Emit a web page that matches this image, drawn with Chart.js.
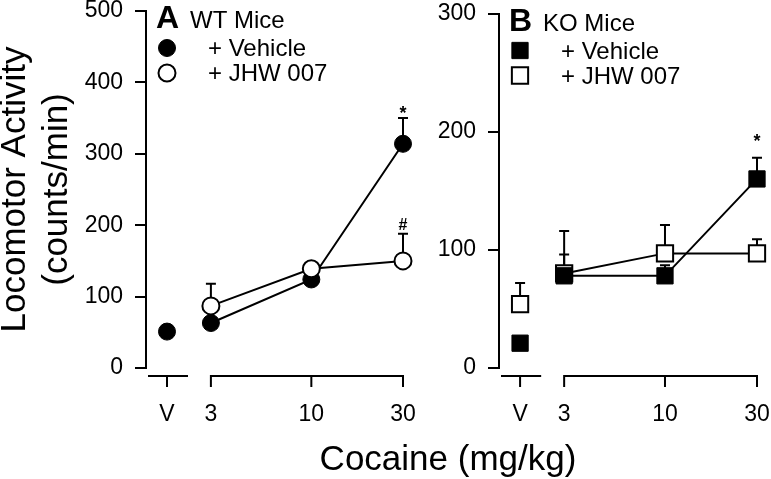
<!DOCTYPE html>
<html>
<head>
<meta charset="utf-8">
<script src="https://cdn.jsdelivr.net/npm/chart.js@4.4.1/dist/chart.umd.min.js"></script>
<style>
  html, body { margin: 0; padding: 0; background: #fff; }
  #wrap { position: relative; width: 771px; height: 479px; overflow: hidden; font-family: "Liberation Sans", Arial, Helvetica, sans-serif; }
  canvas { position: absolute; top: 0; }
  #chartA { left: 0; }
  #chartB { left: 425px; }
  #xTitle { position: absolute; left: 448px; top: 440px; transform: translateX(-50%); font-size: 35px; line-height: 35px; color: #000; white-space: nowrap; }
</style>
</head>
<body>
<div id="wrap">
  <canvas id="chartA" width="430" height="479"></canvas>
  <canvas id="chartB" width="346" height="479"></canvas>
  <div id="xTitle">Cocaine (mg/kg)</div>
</div>
<script>
// cocaine doses (mg/kg) on a log axis, plus the saline "V" point
const doses = [3, 10, 30];
const doseTicks = [3, 10, 30];
const vehicleLabel = ['V'];

// panel A - WT mice
const wtVehicle = [63, 124, 314];
const wtVehicleSem = [5, 5, 36];
const wtJhw = [87, 139, 150];
const wtJhwSem = [31, 5, 38];
const wtVehicleV = [51];
const wtVehicleVSem = [4];

// panel B - KO mice
const koVehicle = [78, 78, 160];
const koVehicleSem = [18, 9, 18];
const koJhw = [80, 97, 97];
const koJhwSem = [36, 24, 12];
const koVehicleV = [21];
const koVehicleVSem = [3];
const koJhwV = [54];
const koJhwVSem = [18];

// significance symbols (dose, height in counts/min)
const wtMarks = [{dose: 30, value: 355, text: '*'}, {dose: 30, value: 199, text: '#'}];
const koMarks = [{dose: 30, value: 191, text: '*'}];

const family = '"Liberation Sans", Arial, Helvetica, sans-serif';
Chart.defaults.font.family = family;
Chart.defaults.color = '#000';

const filled = {pointBackgroundColor: '#000', pointBorderColor: '#000', pointBorderWidth: 1};
const open = {pointBackgroundColor: '#fff', pointBorderColor: '#000', pointBorderWidth: 2};

function xy(xs, ys) {
  return xs.map((x, i) => ({x: x, y: ys[i]}));
}

function drawMarker(ctx, ds, cx, cy) {
  const r = ds.pointRadius;
  ctx.beginPath();
  if (ds.pointStyle === 'rect') {
    const h = r * Math.SQRT1_2;
    ctx.rect(cx - h, cy - h, 2 * h, 2 * h);
  } else {
    ctx.arc(cx, cy, r, 0, Math.PI * 2);
  }
  ctx.fillStyle = ds.pointBackgroundColor;
  ctx.fill();
  ctx.lineWidth = ds.pointBorderWidth;
  ctx.strokeStyle = ds.pointBorderColor;
  ctx.stroke();
}

// upward SEM bars
const errorBars = {
  id: 'errorBars',
  beforeDatasetsDraw(chart) {
    const ctx = chart.ctx;
    ctx.save();
    ctx.strokeStyle = '#000';
    ctx.lineWidth = 2;
    chart.data.datasets.forEach((ds, i) => {
      if (!ds.errors) return;
      const meta = chart.getDatasetMeta(i);
      const yScale = chart.scales[meta.yAxisID];
      meta.data.forEach((pt, j) => {
        const top = yScale.getPixelForValue(ds.data[j].y + ds.errors[j]);
        ctx.beginPath();
        ctx.moveTo(pt.x, pt.y);
        ctx.lineTo(pt.x, top);
        ctx.moveTo(pt.x - 5, top);
        ctx.lineTo(pt.x + 5, top);
        ctx.stroke();
      });
    });
    ctx.restore();
  }
};

// broken x axis: short V segment, then the dose segment
const splitAxis = {
  id: 'splitAxis',
  beforeDatasetsDraw(chart) {
    const ctx = chart.ctx;
    const xv = chart.scales.xv;
    const x = chart.scales.x;
    const yLine = chart.chartArea.bottom + 8;
    const tick = 11;
    ctx.save();
    ctx.strokeStyle = '#000';
    ctx.lineWidth = 2;
    ctx.beginPath();
    ctx.moveTo(xv.left + 2, yLine);
    ctx.lineTo(xv.right, yLine);
    const pv = xv.getPixelForValue(0);
    ctx.moveTo(pv, yLine);
    ctx.lineTo(pv, yLine + tick);
    ctx.moveTo(x.getPixelForValue(doseTicks[0]) - 1, yLine);
    ctx.lineTo(x.getPixelForValue(doseTicks[doseTicks.length - 1]) + 1, yLine);
    doseTicks.forEach(d => {
      const p = x.getPixelForValue(d);
      ctx.moveTo(p, yLine);
      ctx.lineTo(p, yLine + tick);
    });
    ctx.stroke();
    ctx.restore();
  }
};

const panelLegend = {
  id: 'panelLegend',
  afterDraw(chart, args, opts) {
    const ctx = chart.ctx;
    const x0 = chart.chartArea.left;
    const y0 = chart.chartArea.top;
    ctx.save();
    ctx.fillStyle = '#000';
    ctx.textBaseline = 'alphabetic';
    ctx.textAlign = 'left';
    ctx.font = 'bold 32px ' + family;
    ctx.fillText(opts.letter, x0 + 10, y0 + 17);
    ctx.font = '24px ' + family;
    ctx.fillText(opts.title, x0 + 44, y0 + 17);
    opts.items.forEach((idx, k) => {
      const ds = chart.data.datasets[idx];
      const cy = y0 + 37 + k * 25;
      drawMarker(ctx, ds, x0 + 21, cy);
      ctx.fillStyle = '#000';
      ctx.fillText(ds.label, x0 + 62, cy + 8);
    });
    ctx.restore();
  }
};

const sigMarks = {
  id: 'sigMarks',
  afterDatasetsDraw(chart, args, opts) {
    const ctx = chart.ctx;
    const x = chart.scales.x;
    const y = chart.scales.y;
    ctx.save();
    ctx.fillStyle = '#000';
    ctx.textAlign = 'center';
    ctx.textBaseline = 'middle';
    opts.marks.forEach(m => {
      ctx.font = (m.text === '*' ? 'bold 18px ' : 'bold 16px ') + family;
      ctx.fillText(m.text, x.getPixelForValue(m.dose), y.getPixelForValue(m.value));
    });
    ctx.restore();
  }
};

function scalesFor(yMax, yTitle, yWidth) {
  const xFit = s => { s.height = 111; s.paddingLeft = 0; s.paddingRight = 0; };
  return {
    xv: {
      type: 'category', labels: vehicleLabel, position: 'bottom',
      stack: 'dose', stackWeight: 42, offset: true,
      grid: {display: false, drawTicks: false},
      border: {display: false},
      ticks: {padding: 33, font: {size: 23}, maxRotation: 0},
      afterFit: xFit
    },
    x: {
      type: 'logarithmic', min: 2.28, max: 30, bounds: 'data', position: 'bottom',
      stack: 'dose', stackWeight: 215,
      grid: {display: false, drawTicks: false},
      border: {display: false},
      ticks: {padding: 33, font: {size: 23}, autoSkip: false, maxRotation: 0, callback: v => String(v)},
      afterBuildTicks: s => { s.ticks = doseTicks.map(v => ({value: v})); },
      afterFit: xFit
    },
    y: {
      type: 'linear', min: 0, max: yMax, position: 'left',
      ticks: {stepSize: 100, padding: 12, font: {size: 23}},
      grid: {display: true, drawOnChartArea: false, drawTicks: true, tickLength: 11, color: '#000', lineWidth: 2},
      border: {display: true, color: '#000', width: 2},
      title: {display: !!yTitle, text: yTitle || '', font: {size: 35, lineHeight: 1.18}, padding: {top: -5, bottom: 0}},
      afterFit: s => { s.width = yWidth; s.paddingTop = 0; s.paddingBottom = 0; }
    }
  };
}

function baseOptions(rightPad, yMax, yTitle, yWidth, legendOpts, marks) {
  return {
    responsive: false,
    animation: false,
    devicePixelRatio: 1,
    layout: {padding: {left: 0, top: 11, right: rightPad, bottom: 0}},
    elements: {line: {tension: 0, borderWidth: 2, borderColor: '#000'}},
    plugins: {
      legend: {display: false},
      tooltip: {enabled: false},
      panelLegend: legendOpts,
      sigMarks: {marks: marks}
    },
    scales: scalesFor(yMax, yTitle, yWidth)
  };
}

// Panel A
new Chart(document.getElementById('chartA'), {
  type: 'line',
  data: {
    datasets: [
      Object.assign({label: '+ Vehicle', data: xy(doses, wtVehicle), errors: wtVehicleSem, xAxisID: 'x',
        pointStyle: 'circle', pointRadius: 8.5, borderColor: '#000', borderWidth: 2, order: 1, clip: false}, filled),
      Object.assign({label: '+ JHW 007', data: xy(doses, wtJhw), errors: wtJhwSem, xAxisID: 'x',
        pointStyle: 'circle', pointRadius: 8.5, borderColor: '#000', borderWidth: 2, order: 0, clip: false}, open),
      Object.assign({label: '+ Vehicle', data: xy(vehicleLabel, wtVehicleV), errors: wtVehicleVSem, xAxisID: 'xv',
        showLine: false, pointStyle: 'circle', pointRadius: 8.5, order: 1, clip: false}, filled)
    ]
  },
  options: baseOptions(27, 500, ['Locomotor Activity', '(counts/min)'], 146,
    {letter: 'A', title: 'WT Mice', items: [0, 1]}, wtMarks),
  plugins: [errorBars, splitAxis, panelLegend, sigMarks]
});

// Panel B
new Chart(document.getElementById('chartB'), {
  type: 'line',
  data: {
    datasets: [
      Object.assign({label: '+ Vehicle', data: xy(doses, koVehicle), errors: koVehicleSem, xAxisID: 'x',
        pointStyle: 'rect', pointRadius: 11.5, borderColor: '#000', borderWidth: 2, order: 0, clip: false}, filled),
      Object.assign({label: '+ JHW 007', data: xy(doses, koJhw), errors: koJhwSem, xAxisID: 'x',
        pointStyle: 'rect', pointRadius: 11.5, borderColor: '#000', borderWidth: 2, order: 1, clip: false}, open),
      Object.assign({label: '+ Vehicle', data: xy(vehicleLabel, koVehicleV), errors: koVehicleVSem, xAxisID: 'xv',
        showLine: false, pointStyle: 'rect', pointRadius: 11.5, order: 0, clip: false}, filled),
      Object.assign({label: '+ JHW 007', data: xy(vehicleLabel, koJhwV), errors: koJhwVSem, xAxisID: 'xv',
        showLine: false, pointStyle: 'rect', pointRadius: 11.5, order: 1, clip: false}, open)
    ]
  },
  options: baseOptions(14, 300, null, 74,
    {letter: 'B', title: 'KO Mice', items: [0, 1]}, koMarks),
  plugins: [errorBars, splitAxis, panelLegend, sigMarks]
});
</script>
</body>
</html>
